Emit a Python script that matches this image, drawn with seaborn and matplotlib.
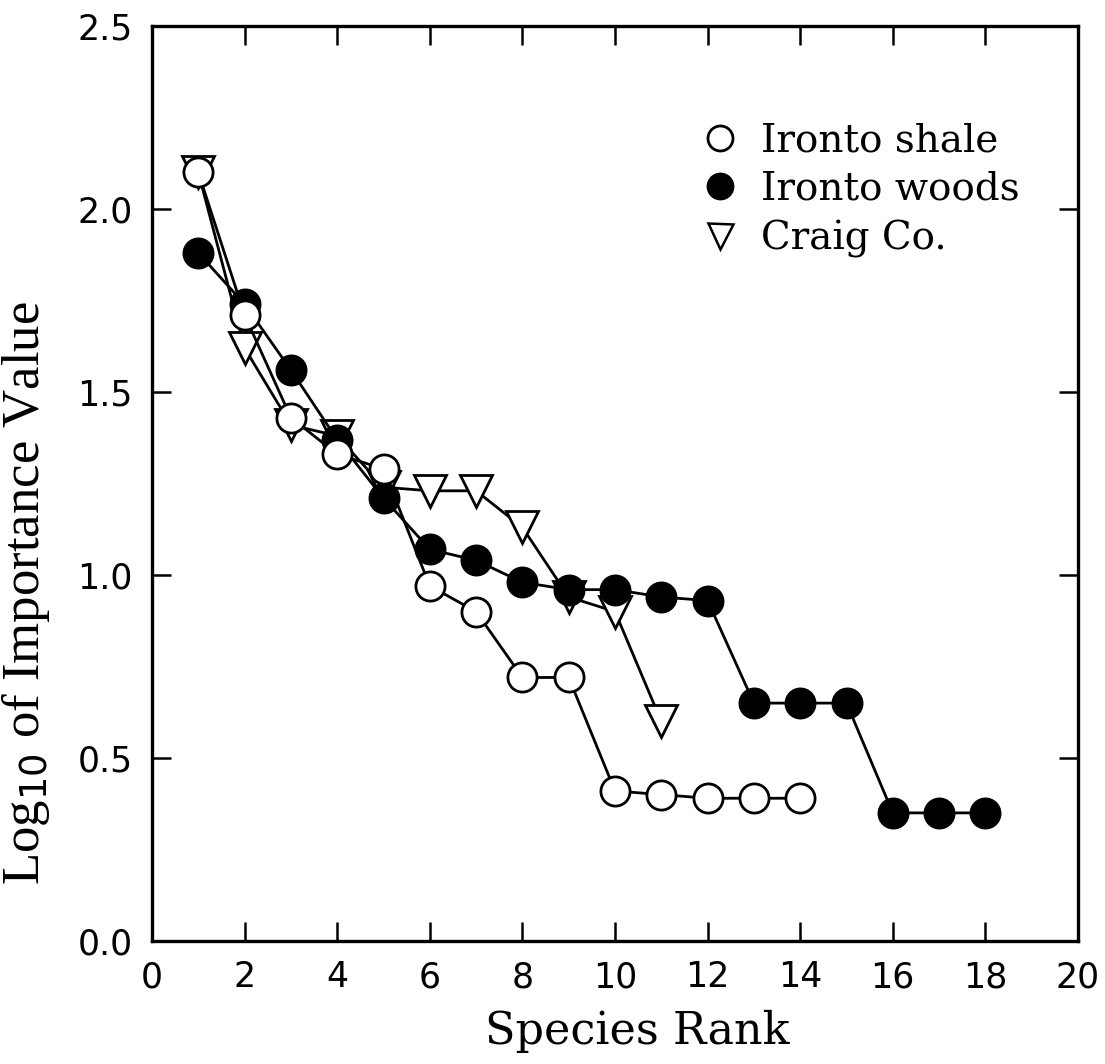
import numpy as np
import pandas as pd
import matplotlib
matplotlib.use("Agg")
import matplotlib.pyplot as plt
import seaborn as sns
from matplotlib.lines import Line2D

# ---- data ----
shale_rank = [1, 2, 3, 4, 5, 6, 7, 8, 9, 10, 11, 12, 13, 14]
shale_vals = [2.10, 1.71, 1.43, 1.33, 1.29, 0.97, 0.90, 0.72, 0.72, 0.41, 0.40, 0.39, 0.39, 0.39]

woods_rank = [1, 2, 3, 4, 5, 6, 7, 8, 9, 10, 11, 12, 13, 14, 15, 16, 17, 18]
woods_vals = [1.88, 1.74, 1.56, 1.37, 1.21, 1.07, 1.04, 0.98, 0.96, 0.96, 0.94, 0.93,
              0.65, 0.65, 0.65, 0.35, 0.35, 0.35]

craig_rank = [1, 2, 3, 4, 5, 6, 7, 8, 9, 10, 11]
craig_vals = [2.10, 1.62, 1.41, 1.38, 1.24, 1.23, 1.23, 1.13, 0.94, 0.90, 0.60]

labels = ["Ironto shale", "Ironto woods", "Craig Co."]
x_ticks = [0, 2, 4, 6, 8, 10, 12, 14, 16, 18, 20]
y_ticks = [0.0, 0.5, 1.0, 1.5, 2.0, 2.5]

sns.set_style("ticks")
plt.rcParams['font.family'] = ['DejaVu Sans']
plt.rcParams['text.color'] = 'black'
plt.rcParams['axes.labelcolor'] = 'black'
plt.rcParams['xtick.color'] = 'black'
plt.rcParams['ytick.color'] = 'black'

fig = plt.figure(figsize=(11.05, 10.64), dpi=100)
ax = fig.add_axes([152/1105, 1 - 941/1064, (1078-152)/1105, (941-26)/1064])

common = dict(color="black", linewidth=2.0, ax=ax, legend=False,
              markeredgewidth=2.0, markeredgecolor="black")

sns.lineplot(x=woods_rank, y=woods_vals, marker="o", markersize=21,
             markerfacecolor="black", zorder=3, **common)
sns.lineplot(x=shale_rank, y=shale_vals, marker="o", markersize=21,
             markerfacecolor="white", zorder=4, **common)
sns.lineplot(x=craig_rank, y=craig_vals, marker="v", markersize=23,
             markerfacecolor="white", zorder=2, **common)

ax.set_xlim(0, 20)
ax.set_ylim(0, 2.5)
ax.set_xticks(x_ticks)
ax.set_yticks(y_ticks)
ax.set_yticklabels([f"{v:.1f}" for v in y_ticks])

ax.tick_params(direction="in", length=14, width=1.8, labelsize=25,
               top=True, right=True, pad=14, colors="black")
for s in ax.spines.values():
    s.set_linewidth(2.4)
    s.set_color("black")

ax.set_xlabel("Species Rank", fontsize=32, family="DejaVu Serif")
ax.xaxis.set_label_coords(0.524, -0.075)
ax.set_ylabel("Log$_{10}$ of Importance Value", fontsize=38, family="Liberation Serif")
ax.yaxis.set_label_coords(-0.108, 0.38)

handles = [
    Line2D([], [], linestyle="none", marker="o", markersize=18, markerfacecolor="white",
           markeredgecolor="black", markeredgewidth=2),
    Line2D([], [], linestyle="none", marker="o", markersize=18, markerfacecolor="black",
           markeredgecolor="black", markeredgewidth=2),
    Line2D([], [], linestyle="none", marker="v", markersize=18, markerfacecolor="white",
           markeredgecolor="black", markeredgewidth=1.8),
]
leg = ax.legend(handles, labels, loc="upper left", bbox_to_anchor=(0.555, 0.933),
                frameon=False, handlelength=1.0, handletextpad=0.55, labelspacing=0.3,
                prop={"family": "DejaVu Serif", "size": 28})

fig.savefig("out.png", dpi=100)
